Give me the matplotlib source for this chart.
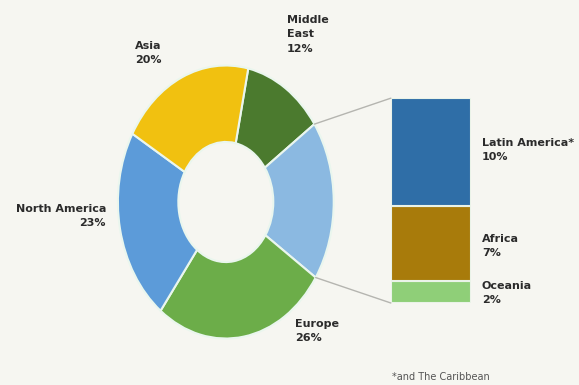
import numpy as np
import matplotlib.pyplot as plt
from matplotlib.patches import ConnectionPatch

# donut slices, clockwise from the top
regions = ['Middle East', 'Other', 'Europe', 'North America', 'Asia']
shares = [12, 19, 26, 23, 20]
pie_colors = ['#4b7a2e', '#8bb9e1', '#6cad49', '#5c9bd9', '#f1c110']

# breakdown of "Other", bottom to top
sub_regions = ['Oceania', 'Africa', 'Latin America*']
sub_shares = [2, 7, 10]
bar_colors = ['#8fcf78', '#a87b0b', '#2f6ea7']

W, H = 579, 385
bg = '#f6f6f1'
plt.rcParams['font.family'] = ['Liberation Sans Narrow', 'DejaVu Sans']

fig = plt.figure(figsize=(W / 100, H / 100), dpi=100, facecolor=bg)

def px(x, y):
    return x / W, 1 - y / H

# donut (stretched vertically like the original)
ax = fig.add_axes([0.185, 0.0853, 0.410, 0.780])
start = 78
wedges, _ = ax.pie(shares, colors=pie_colors, startangle=start, counterclock=False,
                   radius=1.0, wedgeprops=dict(width=0.56, edgecolor='#eaf6ee', linewidth=1.5))
ax.set_aspect('auto')
ax.set_xlim(-1.1, 1.1)
ax.set_ylim(-1.1, 1.1)
ax.axis('off')

# stacked bar for "Other"
bx = fig.add_axes([0.675, 0.213, 0.138, 0.532])
bottom = 0
for v, c in zip(sub_shares, bar_colors):
    bx.bar(0, v, width=1.0, bottom=bottom, color=c, edgecolor='#eaf3e8', linewidth=1.5)
    bottom += v
bx.set_xlim(-0.5, 0.5)
bx.set_ylim(0, sum(sub_shares))
bx.axis('off')

# connector lines from the "Other" slice edges to the bar corners
cum = np.cumsum([0] + shares)
a_top = np.deg2rad(start - cum[1] / 100 * 360)
a_bot = np.deg2rad(start - cum[2] / 100 * 360)
for ang, yb in [(a_top, sum(sub_shares)), (a_bot, 0)]:
    con = ConnectionPatch(xyA=(np.cos(ang), np.sin(ang)), coordsA=ax.transData,
                          xyB=(-0.5, yb), coordsB=bx.transData,
                          color='#b5b5b0', linewidth=1.0)
    fig.add_artist(con)

lab = dict(fontsize=8, fontweight='bold', color='#2b2b2b', va='top', linespacing=1.55)
fig.text(*px(135, 41), 'Asia\n20%', ha='left', **lab)
fig.text(*px(287, 15), 'Middle\nEast\n12%', ha='left', **lab)
fig.text(*px(106, 204), 'North America\n23%', ha='right', multialignment='right', **lab)
fig.text(*px(295, 319), 'Europe\n26%', ha='left', **lab)
fig.text(*px(482, 138), 'Latin America*\n10%', ha='left', **lab)
fig.text(*px(482, 234), 'Africa\n7%', ha='left', **lab)
fig.text(*px(482, 281), 'Oceania\n2%', ha='left', **lab)
fig.text(*px(392, 377), '*and The Caribbean', ha='left', va='center',
         fontsize=7, color='#555555')

fig.savefig('out.png', dpi=100, facecolor=bg)
